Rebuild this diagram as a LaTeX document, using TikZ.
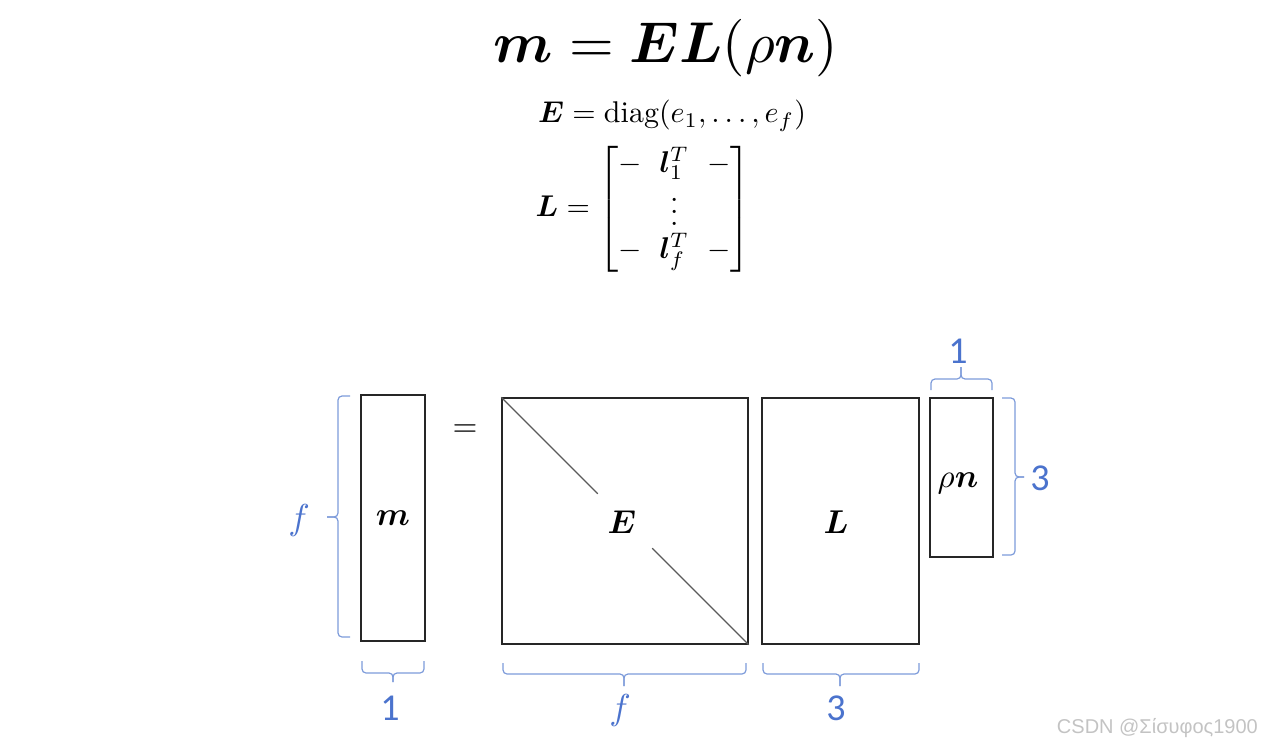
\documentclass[tikz,border=0pt]{standalone}
\usepackage{amsmath,bm}
\usepackage{fontspec}
\newfontfamily\carlfont{Carlito}
\newfontfamily\wmfont{Liberation Sans}
\usetikzlibrary{calc}
\definecolor{bracecol}{RGB}{125,155,218}
\definecolor{labcol}{RGB}{75,115,205}
\definecolor{diagcol}{RGB}{90,90,90}
\definecolor{wmcol}{RGB}{195,195,195}
\tikzset{
  matbox/.style={draw=black!85, line width=1.3pt, inner sep=0pt},
  brace/.style={draw=bracecol, line width=1.2pt, rounded corners=4pt},
  numlab/.style={text=labcol, font=\carlfont\fontsize{38}{40}\selectfont, inner sep=0pt},
  flab/.style={text=labcol, scale=3.6, inner sep=0pt},
  boxlab/.style={scale=3.3, inner sep=0pt},
}
\begin{document}
\begin{tikzpicture}[x=1pt,y=-1pt]
\useasboundingbox (0,0) rectangle (1263,750);
% formulas
\node[scale=5.75] (title) at (666,48) {$\bm{m} = \bm{E}\bm{L}(\rho\bm{n})$};
\node[scale=3] (eqE) at (672,116) {$\bm{E} = \mathrm{diag}(e_1, \ldots, e_f)$};
\node[scale=3] (eqL) at (643,209) {\setlength\arraycolsep{3pt}$\bm{L} = \begin{bmatrix} - & \bm{l}_1^T & - \\[-1pt] & \vdots & \\[-1pt] - & \bm{l}_f^T & - \end{bmatrix}$};
% boxes
\node[matbox, minimum width=64pt, minimum height=246pt] (m) at (393,518) {};
\node[matbox, minimum width=246pt, minimum height=246pt] (E) at (625,521) {};
\node[matbox, minimum width=157pt, minimum height=246pt] (L) at (840.5,521) {};
\node[matbox, minimum width=63pt, minimum height=159pt] (rn) at (961.5,477.5) {};
\draw[diagcol, line width=1.1pt] (E.north west) -- ($(E.north west)!0.39!(E.south east)$);
\draw[diagcol, line width=1.1pt] ($(E.north west)!0.61!(E.south east)$) -- (E.south east);
% box labels
\node[boxlab] (mlab) at (m.center) {$\bm{m}$};
\node[boxlab] (Elab) at (622,522) {$\bm{E}$};
\node[boxlab] (Llab) at (836,522) {$\bm{L}$};
\node[boxlab] (rnlab) at (958,483) {$\rho\bm{n}$};
\node[scale=3.2] (eq) at (465,431) {$=$};
% braces
\draw[brace] (350,396) -- (338,396) -- (338,517) -- (327,517);
\draw[brace] (327,517) -- (338,517) -- (338,637) -- (350,637);
\draw[brace] (362,661) -- (362,673) -- (393,673) -- (393,682);
\draw[brace] (393,682) -- (393,673) -- (424,673) -- (424,661);
\draw[brace] (503,663) -- (503,674) -- (624,674) -- (624,686);
\draw[brace] (624,686) -- (624,674) -- (746,674) -- (746,663);
\draw[brace] (763,663) -- (763,674) -- (840,674) -- (840,686);
\draw[brace] (840,686) -- (840,674) -- (919,674) -- (919,663);
\draw[brace] (931,390) -- (931,379) -- (961,379) -- (961,367);
\draw[brace] (961,367) -- (961,379) -- (992,379) -- (992,390);
\draw[brace] (1002,398) -- (1015,398) -- (1015,477) -- (1024,477);
\draw[brace] (1024,477) -- (1015,477) -- (1015,555) -- (1002,555);
% brace labels
\node[flab] (fl) at (299,520) {$f$};
\node[numlab] (onem) at (390,708) {1};
\node[flab] (fb) at (620,710) {$f$};
\node[numlab] (threeb) at (836,708) {3};
\node[numlab] (onet) at (958,351) {1};
\node[numlab] (threer) at (1040,478) {3};
% watermark
\node[text=wmcol, font=\wmfont\fontsize{20}{22}\selectfont, anchor=east, inner sep=0pt] (wm) at (1258,728) {CSDN @Σίσυφος1900};
\end{tikzpicture}
\end{document}
